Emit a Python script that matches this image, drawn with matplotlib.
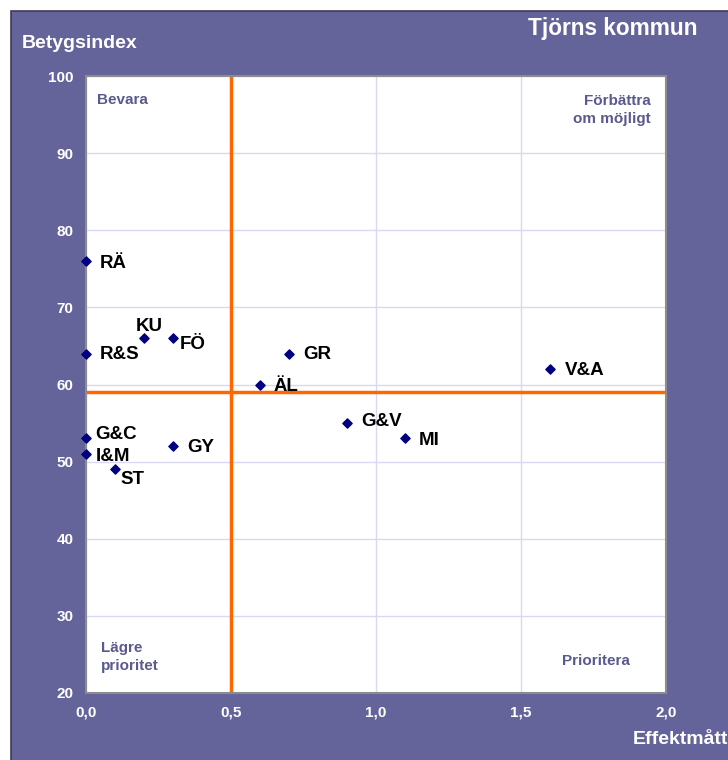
import matplotlib.pyplot as plt
from matplotlib.patches import Rectangle

plt.rcParams['font.family'] = ['Liberation Sans', 'DejaVu Sans']

# data
labels = ["RÄ", "R&S", "KU", "FÖ", "GR", "ÄL", "V&A", "G&V", "MI", "G&C", "I&M", "ST", "GY"]
effekt = [0.0, 0.0, 0.2, 0.3, 0.7, 0.6, 1.6, 0.9, 1.1, 0.0, 0.0, 0.1, 0.3]
index = [76, 64, 66, 66, 64, 60, 62, 55, 53, 53, 51, 49, 52]
x_ticks = [0.0, 0.5, 1.0, 1.5, 2.0]
x_ticklabels = ["0,0", "0,5", "1,0", "1,5", "2,0"]
y_ticks = [20, 30, 40, 50, 60, 70, 80, 90, 100]
x_split = 0.5
y_split = 59

# label offsets in pixels (dx, dy)
offsets = {
    "RÄ": (14, -2), "R&S": (14, -1), "KU": (-8, 12),
    "FÖ": (7, -6), "GR": (14, -1), "ÄL": (14, -2),
    "V&A": (15, -1), "G&V": (14, 2), "MI": (14, -2),
    "G&C": (9, 4), "I&M": (10, -3), "ST": (5, -10),
    "GY": (14, -1),
}

purple = "#64649a"
W, H = 728, 760
fig = plt.figure(figsize=(W / 100, H / 100), dpi=100)
fig.patch.set_facecolor("white")
bg = Rectangle((11 / W, -0.01), 1.0, 1 - 11 / H + 0.01, transform=fig.transFigure,
               facecolor=purple, edgecolor="#3c3c5a", linewidth=1.2, zorder=-10)
fig.patches.append(bg)

ax = fig.add_axes([86 / W, 1 - 693 / H, 580 / W, 617 / H])
ax.set_zorder(5)
ax.set_facecolor("white")
ax.set_xlim(0, 2.0)
ax.set_ylim(20, 100)
ax.set_xticks(x_ticks)
ax.set_xticklabels(x_ticklabels)
ax.set_yticks(y_ticks)
ax.tick_params(colors="white", labelsize=11, length=0, pad=9)
for lab in ax.get_xticklabels() + ax.get_yticklabels():
    lab.set_fontweight("bold")
    lab.set_color("white")
ax.grid(True, color="#d8d8f4", linewidth=1)
ax.set_axisbelow(True)
for s in ax.spines.values():
    s.set_color("#8c8c8c")
    s.set_linewidth(1.5)

ax.axvline(x_split, color="#ff6600", linewidth=2.5, zorder=2)
ax.axhline(y_split, color="#ff6600", linewidth=2.5, zorder=2)

ax.scatter(effekt, index, marker="D", s=22, color="#000080", zorder=4, clip_on=False)
for lab, xv, yv in zip(labels, effekt, index):
    dx, dy = offsets[lab]
    ax.annotate(lab, (xv, yv), xytext=(dx * 0.72, dy * 0.72), textcoords="offset points",
                ha="left", va="center", fontsize=13.5, fontweight="bold", color="black", zorder=5)

qc = "#5a5a8e"
ax.text(11 / 580, 1 - 24 / 617, "Bevara", transform=ax.transAxes, ha="left", va="center",
        fontsize=11, fontweight="bold", color=qc)
ax.text(1 - 15 / 580, 1 - 34 / 617, "Förbättra\nom möjligt", transform=ax.transAxes, ha="right",
        va="center", fontsize=11, fontweight="bold", color=qc, linespacing=1.35)
ax.text(15 / 580, 36 / 617, "Lägre\nprioritet", transform=ax.transAxes, ha="left", va="center",
        fontsize=11, fontweight="bold", color=qc, linespacing=1.35)
ax.text(1 - 70 / 580, 32 / 617, "Prioritera", transform=ax.transAxes, ha="center", va="center",
        fontsize=11, fontweight="bold", color=qc)

fig.text(22 / W, 1 - 43 / H, "Betygsindex", ha="left", va="center", fontsize=14,
         fontweight="bold", color="white")
fig.text(698 / W, 1 - 28 / H, "Tjörns kommun", ha="right", va="center", fontsize=16.3,
         fontweight="bold", color="white")
fig.text(728 / W, 1 - 740 / H, "Effektmått", ha="right", va="center", fontsize=14,
         fontweight="bold", color="white")

fig.savefig("out.png", dpi=100)
